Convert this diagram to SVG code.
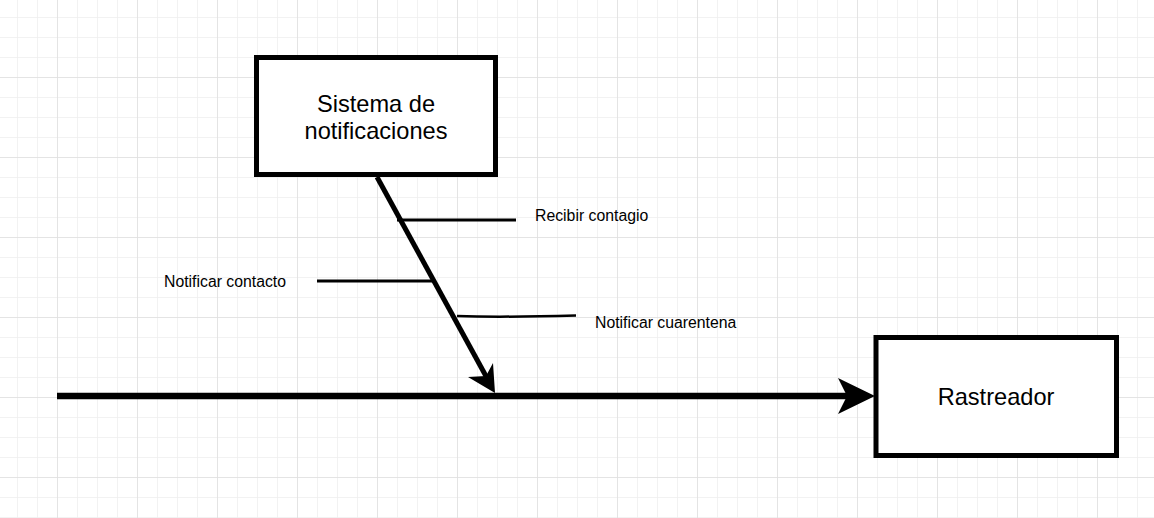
<svg xmlns="http://www.w3.org/2000/svg" width="1154" height="518" viewBox="0 0 1154 518">
  <style>
    .box { fill: #ffffff; stroke: #000000; stroke-width: 5; }
    .label { font-family: "Liberation Sans", Arial, sans-serif; fill: #000000; }
    .big { font-size: 23.6px; }
    .small { font-size: 15.8px; }
    .branch { stroke: #000000; fill: none; stroke-width: 3; }
  </style>
  <defs>
    <pattern id="minor" x="17" y="17" width="20" height="20" patternUnits="userSpaceOnUse">
      <path d="M0 0 H20 M0 0 V20" stroke="#eeeeee" stroke-width="1.5" fill="none"/>
    </pattern>
    <pattern id="major" x="57" y="77" width="80" height="80" patternUnits="userSpaceOnUse">
      <path d="M0 0 H80 M0 0 V80" stroke="#e0e0e0" stroke-width="1.5" fill="none"/>
    </pattern>
  </defs>
  <rect width="1154" height="518" fill="#ffffff"/>
  <rect width="1154" height="518" fill="url(#minor)"/>
  <rect width="1154" height="518" fill="url(#major)"/>

  <g id="connectors">
    <line x1="57" y1="396" x2="848" y2="396" stroke="#000" stroke-width="6.5"/>
    <polygon points="875,396 838,378 847,396 838,414" fill="#000"/>
    <line x1="377" y1="177" x2="487" y2="378" stroke="#000" stroke-width="5"/>
    <polygon points="495,393 468,377 486,376 493,363" fill="#000"/>
    <line class="branch" x1="397" y1="220" x2="516" y2="220"/>
    <line class="branch" x1="317" y1="281" x2="432" y2="281"/>
    <path class="branch" style="stroke-width:2.5" d="M457 316 Q 500 317.5 576 315.5"/>
  </g>

  <g id="sistema">
    <rect class="box" x="256.5" y="57.5" width="239" height="117"/>
    <text class="label big" x="376" y="112" text-anchor="middle">Sistema de</text>
    <text class="label big" x="376" y="139" text-anchor="middle">notificaciones</text>
  </g>

  <g id="rastreador">
    <rect class="box" x="876" y="337.5" width="240.5" height="118"/>
    <text class="label big" x="996" y="405" text-anchor="middle">Rastreador</text>
  </g>

  <g id="label-recibir">
    <text class="label small" x="535" y="221">Recibir contagio</text>
  </g>
  <g id="label-contacto">
    <text class="label small" x="164" y="287">Notificar contacto</text>
  </g>
  <g id="label-cuarentena">
    <text class="label small" x="595" y="328">Notificar cuarentena</text>
  </g>
</svg>
